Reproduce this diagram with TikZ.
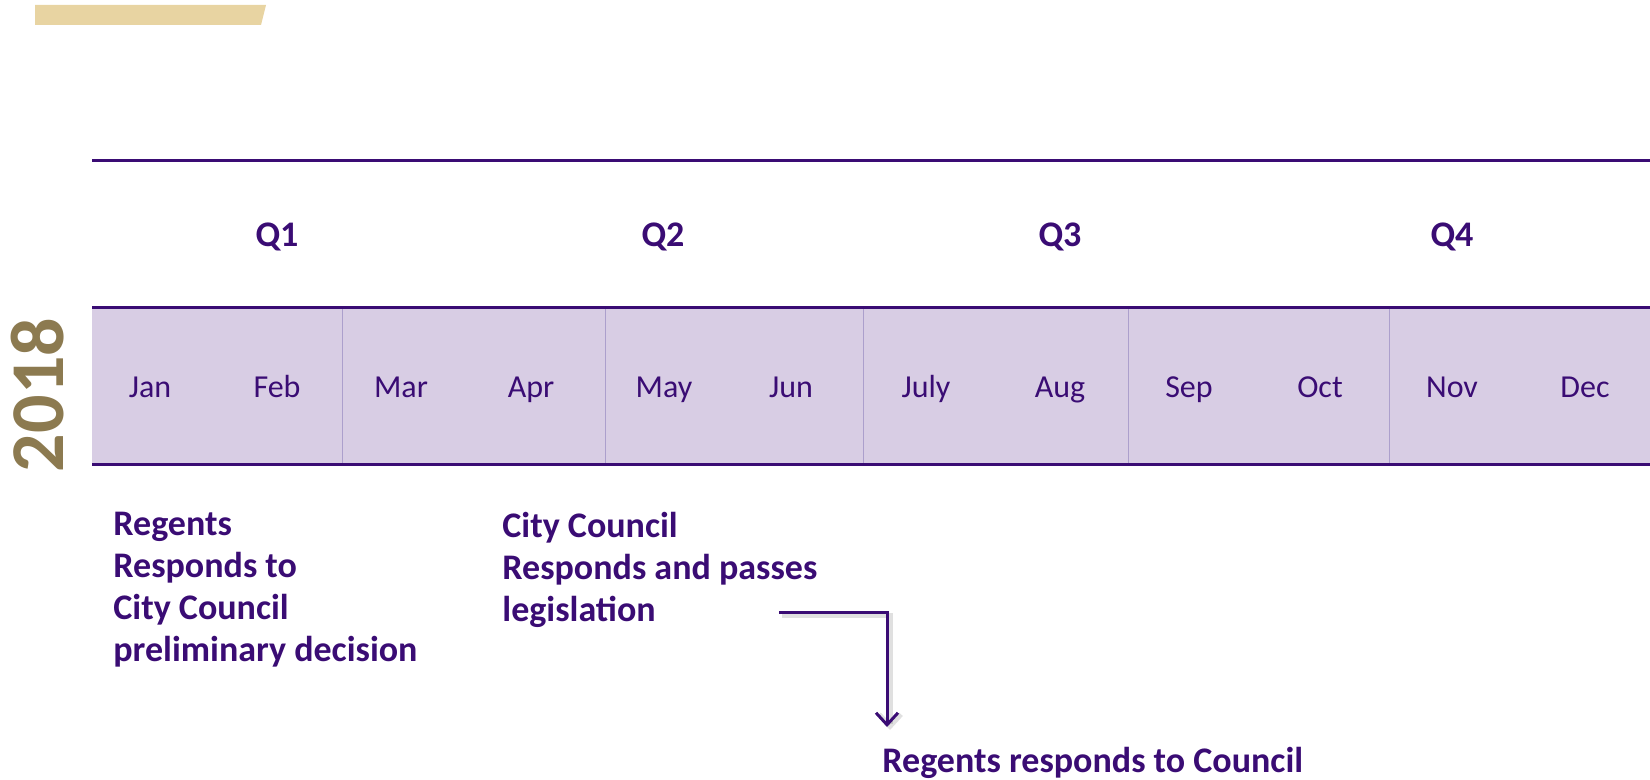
\documentclass[tikz,border=0pt]{standalone}
\usepackage{fontspec}
\setmainfont{Carlito}
\usetikzlibrary{arrows.meta}
\definecolor{tlPurple}{HTML}{3A0C74}
\definecolor{tlLavender}{HTML}{D8CDE4}
\definecolor{tlSep}{HTML}{AC9FCC}
\definecolor{tlGold}{HTML}{E8D4A2}
\definecolor{tlYear}{HTML}{8C7A50}
\tikzset{
  tl rule/.style={draw=tlPurple, line width=1.5pt},
  tl sep/.style={draw=tlSep, line width=0.5pt},
  tl month/.style={font=\fontsize{16}{19}\selectfont, text=tlPurple, anchor=base},
  tl quarter/.style={font=\bfseries\fontsize{18}{21}\selectfont, text=tlPurple, anchor=base},
  tl note/.style={font=\bfseries\fontsize{18}{21}\selectfont, text=tlPurple, align=left, anchor=north west, inner sep=0pt},
  tl year/.style={font=\bfseries\fontsize{38}{40}\selectfont, text=tlYear, rotate=90},
  tl arrow/.style={draw=tlPurple, line width=1.5pt, -{Straight Barb[length=6pt,width=11pt]}},
  tl shadow/.style={tl arrow, draw=black, opacity=0.12, line width=2.5pt},
}
\begin{document}
\begin{tikzpicture}[x=0.5pt,y=-0.5pt]
  \useasboundingbox (0,0) rectangle (1650,780);
  % gold tab and year
  \fill[tlGold] (35,5) -- (266,5) -- (261,25) -- (35,25) -- cycle;
  \node[tl year] (year) at (38,395) {2018};
  % quarter header and month band
  \draw[tl rule] (92,161) -- (1650,161);
  \fill[tlLavender] (92,308) rectangle (1650,465);
  \foreach \x in {342,605,863,1128,1389}
    \draw[tl sep] (\x,308) -- (\x,465);
  \draw[tl rule] (92,308) -- (1650,308);
  \draw[tl rule] (92,465) -- (1650,465);
  \foreach \q/\x in {1/277,2/663,3/1060,4/1452}
    \node[tl quarter] (q\q) at (\x,247) {Q\q};
  \foreach \m/\x [count=\i] in {Jan/150,Feb/277,Mar/401,Apr/531,May/664,Jun/791,
                                July/926,Aug/1060,Sep/1189,Oct/1320,Nov/1452,Dec/1585}
    \node[tl month] (m\i) at (\x,398) {\m};
  % milestones
  \node[tl note] (regents) at (113,512) {Regents\\Responds to\\City Council\\preliminary decision};
  \node[tl note] (council) at (502,512) {City Council\\Responds and passes\\legislation};
  \node[tl note] (reply) at (882,747) {Regents responds to Council};
  \coordinate (arrstart) at (779,612);
  \coordinate (arrend) at (887,727);
  \draw[tl shadow] ([shift={(3,3)}]arrstart) -| ([shift={(3,3)}]arrend);
  \draw[tl arrow] (arrstart) -| (arrend);
\end{tikzpicture}
\end{document}
